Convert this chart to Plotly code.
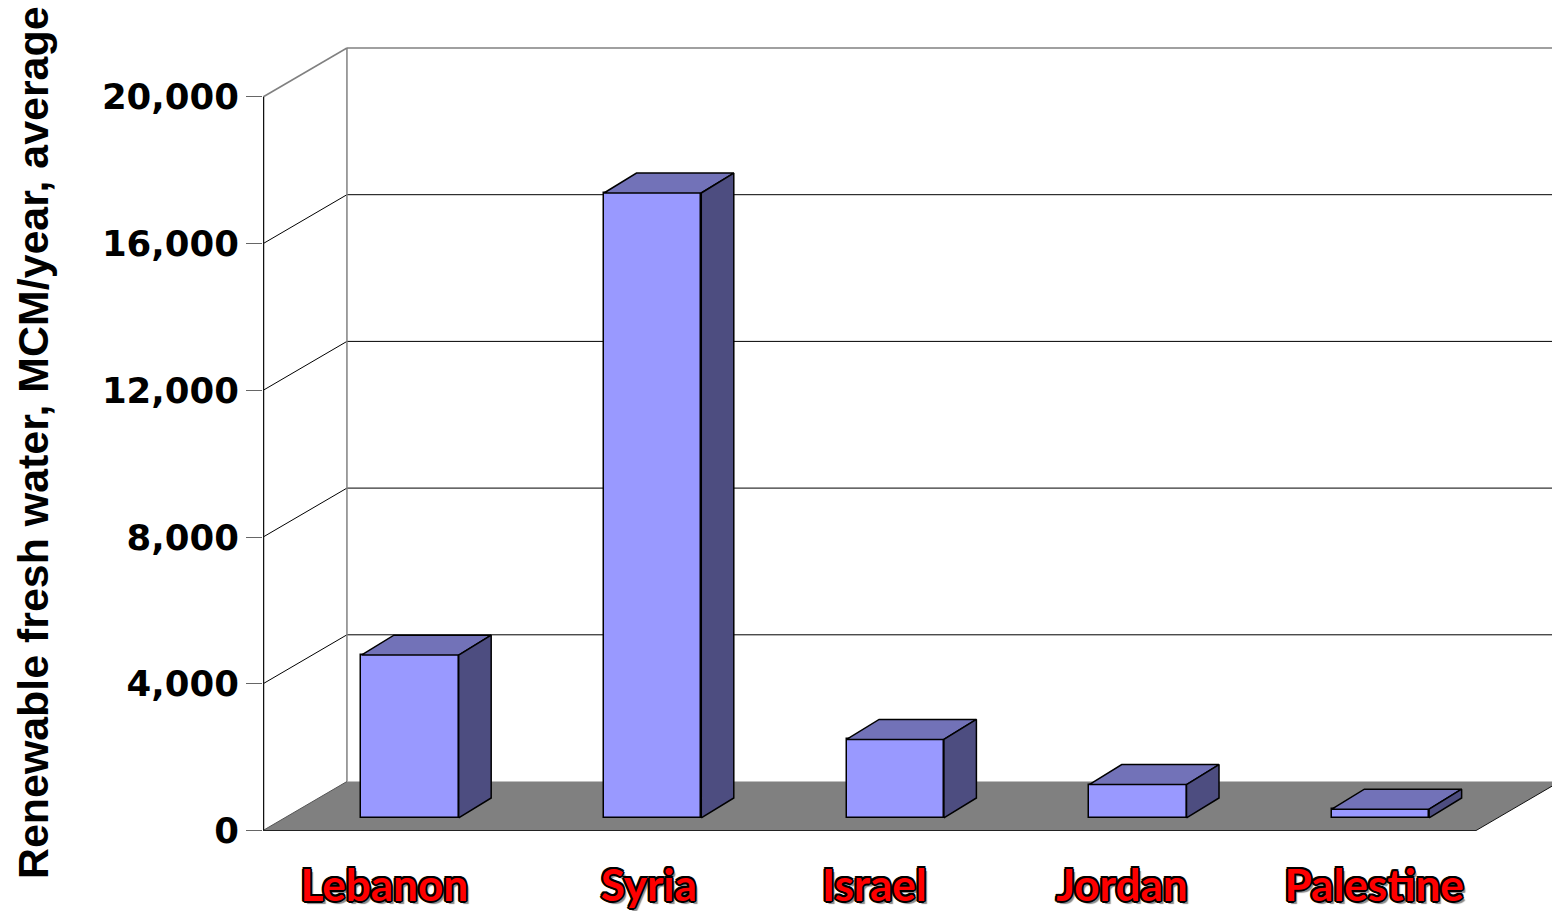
import plotly.graph_objects as go

categories = ["Lebanon", "Syria", "Israel", "Jordan", "Palestine"]
values = [4440, 17040, 2140, 910, 240]
label_positions = [0.0, 1.09, 2.02, 3.04, 4.08]
y_ticks = [0, 4000, 8000, 12000, 16000, 20000]

# Oblique projection of the depth axis, in data units
WALL_DX, WALL_DY = 0.346, 1336
FRONT_DX, FRONT_DY = 0.106, 342
DEPTH_DX, DEPTH_DY = 0.134, 545
BAR_W = 0.401
X0, X1 = -0.5, 4.5
Y_TOP = 20000

FRONT = "#9999FF"; TOP = "#7272B8"; SIDE = "#4D4D80"; FLOOR = "#808080"

fig = go.Figure()

shapes = []
def line(x0, y0, x1, y1, color, width):
    shapes.append(dict(type="line", xref="x", yref="y", x0=x0, y0=y0, x1=x1, y1=y1,
                       layer="below", line=dict(color=color, width=width)))

# floor
bx0, bx1 = X0 + WALL_DX, X1 + WALL_DX
shapes.append(dict(type="path", xref="x", yref="y", layer="below",
                   path=f"M{X0},0 L{X1},0 L{bx1},{WALL_DY} L{bx0},{WALL_DY} Z",
                   fillcolor=FLOOR, line=dict(width=0)))
# walls and grid
for t in y_ticks:
    c, w = ("#808080", 1.5) if t == Y_TOP else ("#000000", 1)
    if t == 0:
        continue
    line(X0, t, bx0, t + WALL_DY, c, w)
    line(bx0, t + WALL_DY, 6, t + WALL_DY, c, w)
line(bx0, WALL_DY, bx0, Y_TOP + WALL_DY, "#808080", 1.5)
line(X0, 0, bx0, WALL_DY, "#555555", 1)
line(X0, 0, X0, Y_TOP, "#111111", 2.5)
line(X0, 0, X1, 0, "#222222", 1.2)
line(X1, 0, bx1, WALL_DY, "#111111", 1)

# front faces
centers = [i + FRONT_DX for i in range(len(categories))]
fig.add_trace(go.Bar(x=centers, y=values, base=[FRONT_DY] * len(values), width=BAR_W,
                     marker=dict(color=FRONT, line=dict(color="black", width=1.5)),
                     hoverinfo="skip", showlegend=False))

# top and side faces
for c, v in zip(centers, values):
    l, r = c - BAR_W / 2, c + BAR_W / 2
    b, t = FRONT_DY, FRONT_DY + v
    fig.add_trace(go.Scatter(x=[l, r, r + DEPTH_DX, l + DEPTH_DX, l],
                             y=[t, t, t + DEPTH_DY, t + DEPTH_DY, t],
                             mode="lines", fill="toself", fillcolor=TOP,
                             line=dict(color="black", width=1.5), hoverinfo="skip", showlegend=False))
    fig.add_trace(go.Scatter(x=[r, r + DEPTH_DX, r + DEPTH_DX, r, r],
                             y=[b, b + DEPTH_DY, t + DEPTH_DY, t, b],
                             mode="lines", fill="toself", fillcolor=SIDE,
                             line=dict(color="black", width=1.5), hoverinfo="skip", showlegend=False))

# category labels
stroke = ",".join(f"{a}px {b}px 0 #000" for a, b in
                  [(-2, 0), (2, 0), (0, -2), (0, 2), (-1.5, -1.5), (1.5, -1.5), (-1.5, 1.5), (1.5, 1.5)])
fig.add_trace(go.Scatter(x=label_positions, y=[-1620] * len(categories), mode="text",
                         text=categories, textposition="middle center",
                         textfont=dict(family="Lato", size=44, color="#FF0000",
                                       weight="bold", shadow=stroke + ",3px 3px 1px #888"),
                         hoverinfo="skip", showlegend=False))

fig.update_layout(
    width=1552, height=911, autosize=False,
    margin=dict(l=263, r=0, t=40, b=0, pad=0),
    paper_bgcolor="white", plot_bgcolor="white", bargap=0, showlegend=False,
    shapes=shapes,
    xaxis=dict(range=[-0.5, 4.813], visible=False, showgrid=False, zeroline=False),
    yaxis=dict(range=[-2195, 21554], showgrid=False, zeroline=False, showline=False,
               tickvals=y_ticks, ticktext=[f"{t:,}" for t in y_ticks],
               ticks="outside", ticklen=16, tickwidth=1, tickcolor="#666666",
               ticklabelstandoff=0,
               tickfont=dict(family="DejaVu Sans", size=35.5, color="black", weight="bold")),
    annotations=[dict(text="Renewable fresh water, MCM/year, average", textangle=-90,
                      xref="paper", yref="paper", x=(33 - 263) / 1289, y=(911 - 443) / 871,
                      xanchor="center", yanchor="middle", showarrow=False,
                      font=dict(family="Liberation Sans", size=42.9, color="black", weight="bold"))],
)

fig.write_html("out.html", post_script="document.body.style.margin='0';",
               config={"displayModeBar": False})
